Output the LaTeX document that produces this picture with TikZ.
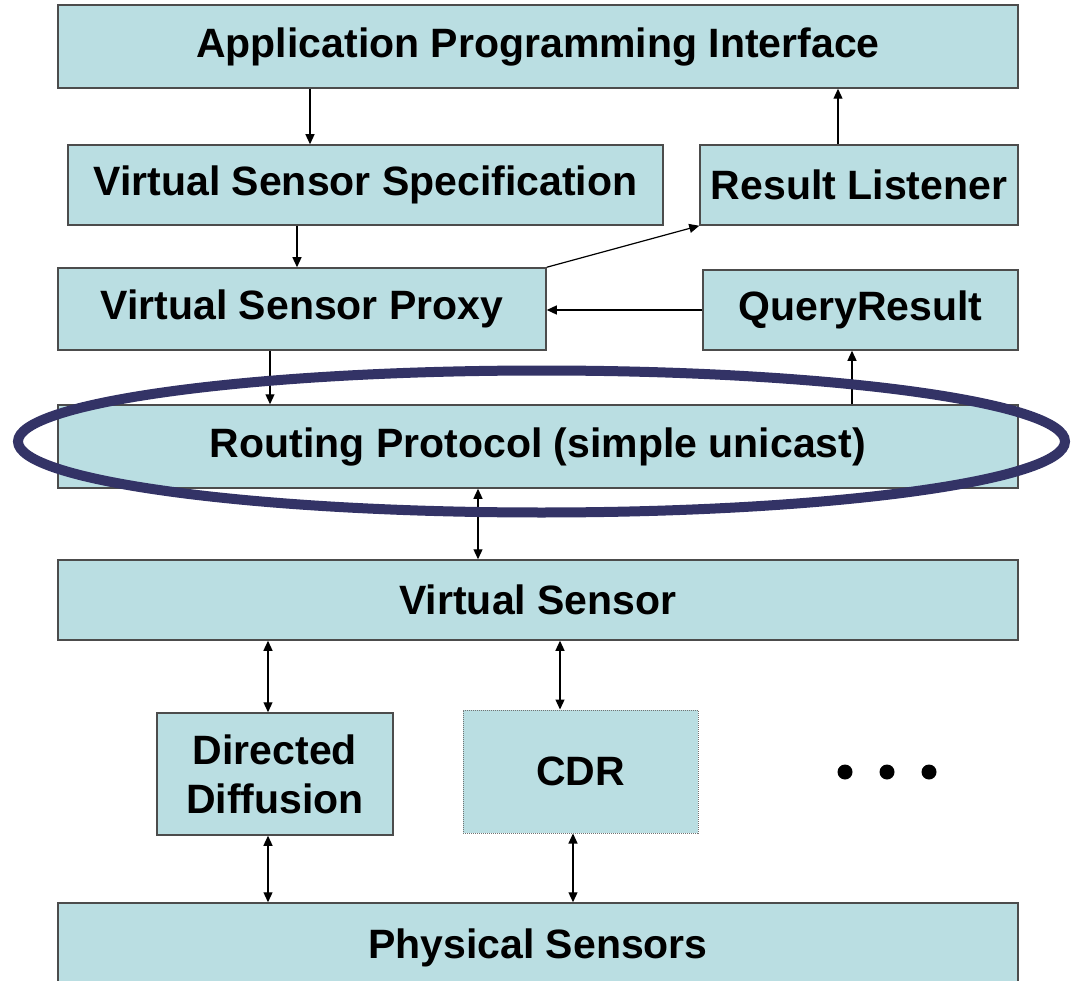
\documentclass[tikz,border=0pt]{standalone}
\usepackage{fontspec}
\setmainfont{Liberation Sans}
\usetikzlibrary{arrows.meta}
\definecolor{boxfill}{RGB}{186,222,226}
\definecolor{ringcol}{RGB}{51,51,102}
\tikzset{
  blk/.style={draw=black!70, fill=boxfill, line width=1.5pt, inner sep=0pt,
    align=center, font=\bfseries\fontsize{41}{49}\selectfont},
  arr/.style={-{Triangle[length=10pt,width=9pt]}, line width=1.2pt},
  darr/.style={{Triangle[length=10pt,width=9pt]}-{Triangle[length=10pt,width=9pt]}, line width=1.2pt}
}

\begin{document}
\begin{tikzpicture}[x=1pt,y=-1pt]
\useasboundingbox (0,0) rectangle (1073,981);

\node[blk, minimum width=960, minimum height=83] (api) at (538,46.5) {Application Programming Interface};
\node[blk, minimum width=595, minimum height=80] (vss) at (365.5,185) {Virtual Sensor Specification};
\node[blk, minimum width=318, minimum height=80] (rl) at (859,185) {Result Listener};
\node[blk, minimum width=488, minimum height=82] (vsp) at (302,309) {Virtual Sensor Proxy};
\node[blk, minimum width=315, minimum height=80] (qr) at (860.5,310) {QueryResult};
\node[blk, minimum width=960, minimum height=83] (rp) at (538,446.5) {Routing Protocol (simple unicast)};
\node[blk, minimum width=960, minimum height=80] (vs) at (538,600) {Virtual Sensor};
\node[blk, minimum width=236, minimum height=122] (dd) at (275,774) {Directed\\Diffusion};
\node[blk, minimum width=235, minimum height=123, draw=black!55, line width=1pt, densely dotted] (cdr) at (580.5,771.5) {CDR};
\node[blk, minimum width=960, minimum height=90] (ps) at (538,948) {Physical Sensors};

% dots
\fill (845,772) circle (7.5);
\fill (887,772) circle (7.5);
\fill (929,772) circle (7.5);

% upper part
\draw[arr] (api.south -| 310,0) -- (vss.north -| 310,0);
\draw[arr] (vss.south -| 297,0) -- (vsp.north -| 297,0);
\draw[arr] (rl.north -| 838,0) -- (api.south -| 838,0);
\draw[arr] (vsp.north east) -- (rl.south west);
\draw[arr] (qr.west) -- (vsp.east |- qr.west);
\draw[arr] (vsp.south -| 270,0) -- (rp.north -| 270,0);
\draw[arr] (rp.north -| 852,0) -- (qr.south -| 852,0);

% lower part
\draw[darr] (rp.south -| 478,0) -- (vs.north -| 478,0);
\draw[darr] (vs.south -| 268,0) -- (dd.north -| 268,0);
\draw[darr] (vs.south -| 560,0) -- (cdr.north -| 560,0);
\draw[darr] (dd.south -| 268,0) -- (ps.north -| 268,0);
\draw[darr] (cdr.south -| 573,0) -- (ps.north -| 573,0);

% ring round the routing layer
\draw[ringcol, line width=10pt] (541.5,441.5) ellipse (523.5 and 71);
\end{tikzpicture}
\end{document}
